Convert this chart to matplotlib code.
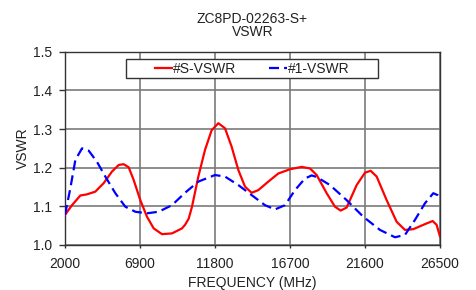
import matplotlib
matplotlib.use("Agg")
import matplotlib.pyplot as plt
from matplotlib.patches import Rectangle

plt.rcParams['font.family'] = ['Liberation Sans', 'DejaVu Sans']

freq_s = [2000, 2457, 3000, 3437, 3980, 4526, 5070, 5507, 5833, 6160, 6487, 6920,
          7357, 7793, 8337, 8990, 9644, 9840, 10080, 10297, 10711, 11147, 11582, 12018,
          12453, 12889, 13324, 13760, 14196, 14631, 15284, 15938, 16700, 17463, 18007,
          18442, 19096, 19640, 20011, 20402, 21056, 21600, 21970, 22363, 23016, 23669,
          24213, 24757, 25520, 26021, 26282, 26500]
vswr_s = [1.078, 1.103, 1.128, 1.131, 1.138, 1.160, 1.190, 1.207, 1.209, 1.201, 1.168, 1.116,
          1.073, 1.043, 1.028, 1.030, 1.043, 1.052, 1.068, 1.099, 1.177, 1.246, 1.297, 1.315,
          1.302, 1.254, 1.194, 1.151, 1.135, 1.142, 1.164, 1.185, 1.196, 1.202, 1.198,
          1.181, 1.134, 1.099, 1.089, 1.097, 1.155, 1.187, 1.192, 1.177, 1.116, 1.060,
          1.039, 1.041, 1.054, 1.062, 1.052, 1.022]

freq_1 = [2000, 2349, 2676, 3111, 3548, 4091, 4634, 5287, 5940, 6594, 7357, 8120,
          8990, 9840, 10711, 11800, 12453, 13324, 14196, 15067, 15720, 16373, 17027,
          17680, 18116, 18442, 19313, 20402, 21490, 22580, 23560, 24213, 24867, 25520,
          26064, 26347, 26500]
vswr_1 = [1.078, 1.147, 1.220, 1.250, 1.244, 1.215, 1.177, 1.134, 1.099, 1.086, 1.082, 1.086,
          1.103, 1.135, 1.164, 1.181, 1.177, 1.155, 1.129, 1.103, 1.092, 1.103, 1.142,
          1.172, 1.180, 1.176, 1.155, 1.116, 1.073, 1.039, 1.020, 1.026, 1.065, 1.108,
          1.134, 1.129, 1.122]

xticks = [2000, 6900, 11800, 16700, 21600, 26500]
yticks = [1.0, 1.1, 1.2, 1.3, 1.4, 1.5]
ytick_labels = ['1.0', '1.1', '1.2', '1.3', '1.4', '1.5']

fig = plt.figure(figsize=(4.77, 2.90), dpi=100)
ax = fig.add_axes([0.1363, 0.1552, 0.7861, 0.6665])

ax.plot(freq_s, vswr_s, color='#ff0000', lw=1.6, label='#S-VSWR', zorder=3)
ax.plot(freq_1, vswr_1, color='#0000ff', lw=1.6, dashes=(4.5, 2.3), label='#1-VSWR', zorder=3)

ax.set_xlim(2000, 26500)
ax.set_ylim(1.0, 1.5)
ax.set_xticks(xticks)
ax.set_xticklabels([str(t) for t in xticks])
ax.set_yticks(yticks)
ax.set_yticklabels(ytick_labels)
ax.grid(True, color='#7a7a7a', lw=1.2)
ax.set_axisbelow(True)
for s in ax.spines.values():
    s.set_color('#333333')
    s.set_linewidth(1.0)
ax.tick_params(direction='out', width=1, color='#333333', labelsize=10, labelcolor='#222222')
ax.tick_params(axis='x', length=2, pad=6.5)
ax.tick_params(axis='y', length=4.5, pad=5)

ax.set_xlabel('FREQUENCY (MHz)', fontsize=10, color='#222222', labelpad=4)
ax.set_ylabel('VSWR', fontsize=10, color='#222222', labelpad=2)
ax.set_title('ZC8PD-02263-S+\nVSWR', fontsize=10, color='#222222', linespacing=0.95, pad=11)

# legend frame drawn as a box in axes coordinates
ax.add_patch(Rectangle((0.1627, 0.864), 0.672, 0.097, transform=ax.transAxes,
                       facecolor='white', edgecolor='#333333', lw=1.0, zorder=4))
leg = ax.legend(loc='center', bbox_to_anchor=(0.4985, 0.913), ncol=2, frameon=False,
                fontsize=10, handlelength=1.25, handletextpad=0.05,
                columnspacing=2.4, borderpad=0.0, borderaxespad=0)
leg.set_zorder(5)
for t in leg.get_texts():
    t.set_color('#222222')

fig.savefig('out.png', dpi=100)
